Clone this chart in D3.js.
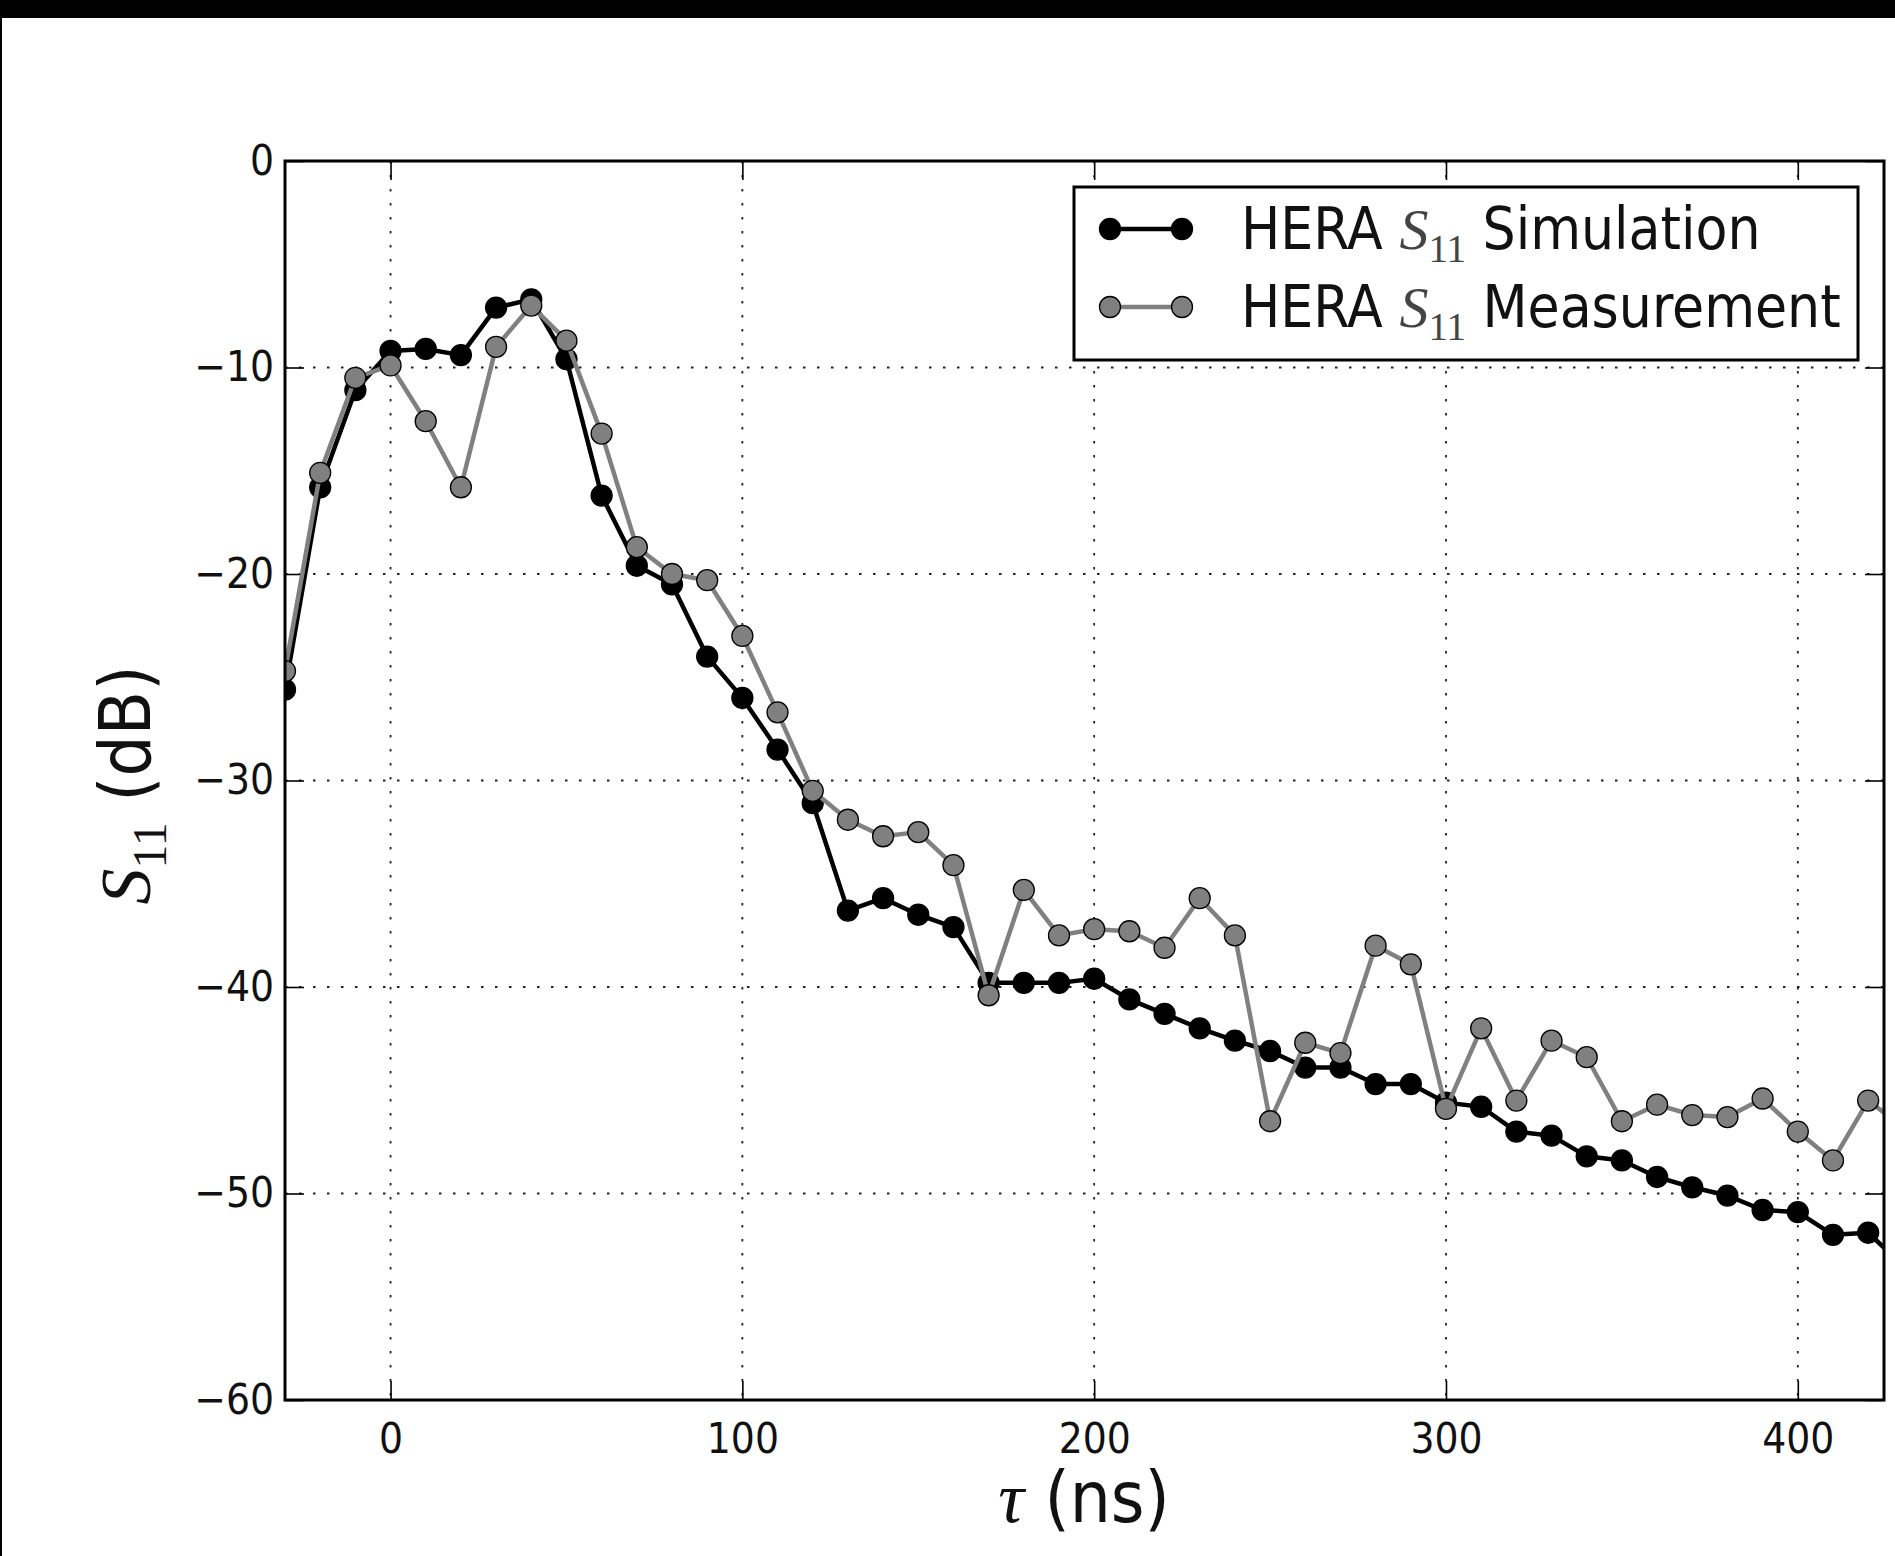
<!DOCTYPE html>
<html>
<head>
<meta charset="utf-8">
<script src="https://cdn.jsdelivr.net/npm/d3@7"></script>
<style>
  body { margin: 0; background: #fff; }
  svg { display: block; font-family: "DejaVu Sans", sans-serif; }
</style>
</head>
<body>
<svg id="chart" width="1895" height="1556"></svg>
<script>
// delay axis (ns), one point every 10 ns
var tau = [-30, -20, -10, 0, 10, 20, 30, 40, 50, 60, 70, 80, 90, 100, 110, 120, 130, 140, 150, 160,
  170, 180, 190, 200, 210, 220, 230, 240, 250, 260, 270, 280, 290, 300, 310, 320, 330, 340, 350,
  360, 370, 380, 390, 400, 410, 420, 430];

// HERA S11 simulation (dB)
var simulation = [-25.6, -15.8, -11.1, -9.2, -9.1, -9.4, -7.1, -6.7, -9.6, -16.2, -19.6, -20.5, -24.0,
  -26.0, -28.5, -31.1, -36.3, -35.7, -36.5, -37.1, -39.8, -39.8, -39.8, -39.6, -40.6, -41.3, -42.0,
  -42.6, -43.1, -43.9, -43.9, -44.7, -44.7, -45.6, -45.8, -47.0, -47.2, -48.2, -48.4, -49.2, -49.7,
  -50.1, -50.8, -50.9, -52.0, -51.9, -53.5];

// HERA S11 measurement (dB)
var measurement = [-24.7, -15.1, -10.5, -9.9, -12.6, -15.8, -9.0, -7.0, -8.7, -13.2, -18.7, -20.0, -20.3,
  -23.0, -26.7, -30.5, -31.9, -32.7, -32.5, -34.1, -40.4, -35.3, -37.5, -37.2, -37.3, -38.1, -35.7,
  -37.5, -46.5, -42.7, -43.2, -38.0, -38.9, -45.9, -42.0, -45.5, -42.6, -43.4, -46.5, -45.7, -46.2,
  -46.3, -45.4, -47.0, -48.4, -45.5, -46.8];

var xTicks = [0, 100, 200, 300, 400];
var yTicks = [0, -10, -20, -30, -40, -50, -60];
var seriesNames = ["Simulation", "Measurement"];

var svg = d3.select("#chart");

// black frame remnants of the original screenshot
svg.append("rect").attr("x", 0).attr("y", 0).attr("width", 1895).attr("height", 18).attr("fill", "#000");
svg.append("rect").attr("x", 0).attr("y", 0).attr("width", 2).attr("height", 1556).attr("fill", "#000");

var margin = { top: 161, right: 11, bottom: 156, left: 285 };
var width = 1895 - margin.left - margin.right;
var height = 1556 - margin.top - margin.bottom;

var g = svg.append("g")
  .attr("transform", "translate(" + margin.left + "," + margin.top + ")");

var x = d3.scaleLinear().domain([-30, 424.5]).range([0, width]);
var y = d3.scaleLinear().domain([-60, 0]).range([height, 0]);

g.append("clipPath").attr("id", "plotClip")
  .append("rect").attr("width", width).attr("height", height);

// dotted grid
g.append("g").selectAll("line").data(xTicks).enter().append("line")
  .attr("x1", d => x(d)).attr("x2", d => x(d))
  .attr("y1", 0).attr("y2", height)
  .attr("stroke", "#222").attr("stroke-width", 1.8).attr("stroke-dasharray", "2.5,11.5");
g.append("g").selectAll("line").data(yTicks).enter().append("line")
  .attr("y1", d => y(d)).attr("y2", d => y(d))
  .attr("x1", 0).attr("x2", width)
  .attr("stroke", "#222").attr("stroke-width", 1.8).attr("stroke-dasharray", "2.5,11.5");

// axes: ticks point inward, labels on bottom / left only
var tickLen = 19;
var xAxis = d3.axisBottom(x).tickValues(xTicks).tickSize(-tickLen).tickPadding(23)
  .tickFormat(d3.format("d"));
var yAxis = d3.axisLeft(y).tickValues(yTicks).tickSize(-tickLen).tickPadding(11)
  .tickFormat(d => d < 0 ? "\u2212" + Math.abs(d) : d);

var gx = g.append("g").attr("transform", "translate(0," + height + ")").call(xAxis);
var gy = g.append("g").call(yAxis);
g.append("g").call(d3.axisTop(x).tickValues(xTicks).tickSize(-tickLen).tickFormat(""));
g.append("g").attr("transform", "translate(" + width + ",0)")
  .call(d3.axisRight(y).tickValues(yTicks).tickSize(-tickLen).tickFormat(""));

svg.selectAll(".domain").remove();
svg.selectAll(".tick line").attr("stroke", "#000").attr("stroke-width", 1.6);
[gx, gy].forEach(function(a) {
  a.selectAll("text").attr("fill", "#111")
    .style("font-size", "42px")
    .style("font-family", "'DejaVu Sans Condensed', 'DejaVu Sans'")
    .style("font-stretch", "condensed");
});

// series
var line = d3.line()
  .x(function(d, i) { return x(tau[i]); })
  .y(function(d) { return y(d); });

var plot = g.append("g").attr("clip-path", "url(#plotClip)");
var styles = [
  { data: simulation, stroke: "#000", fill: "#000" },
  { data: measurement, stroke: "#808080", fill: "#808080" }
];
styles.forEach(function(s) {
  plot.append("path").datum(s.data)
    .attr("d", line)
    .attr("fill", "none")
    .attr("stroke", s.stroke)
    .attr("stroke-width", 4.5)
    .attr("stroke-linejoin", "round");
  plot.append("g").selectAll("circle").data(s.data).enter().append("circle")
    .attr("cx", function(d, i) { return x(tau[i]); })
    .attr("cy", d => y(d))
    .attr("r", 10.5)
    .attr("fill", s.fill)
    .attr("stroke", "#000")
    .attr("stroke-width", 1.3);
});

// frame
g.append("rect").attr("width", width).attr("height", height)
  .attr("fill", "none").attr("stroke", "#000").attr("stroke-width", 3);

// legend
var lg = svg.append("g").attr("transform", "translate(1074,187)");
lg.append("rect").attr("width", 784).attr("height", 173)
  .attr("fill", "#fff").attr("stroke", "#000").attr("stroke-width", 3);
styles.forEach(function(s, i) {
  var yy = 42 + i * 78;
  lg.append("line").attr("x1", 36).attr("x2", 108).attr("y1", yy).attr("y2", yy)
    .attr("stroke", s.stroke).attr("stroke-width", 4.5);
  lg.selectAll(null).data([36, 108]).enter().append("circle")
    .attr("cx", d => d).attr("cy", yy).attr("r", 10.5)
    .attr("fill", s.fill).attr("stroke", "#000").attr("stroke-width", 1.3);
  var t = lg.append("text").attr("x", 167).attr("y", yy + 20)
    .style("font-size", "58px").style("font-family", "'DejaVu Sans Condensed', 'DejaVu Sans'")
    .style("font-stretch", "condensed").attr("fill", "#111");
  t.append("tspan").text("HERA ");
  t.append("tspan").style("font-family", "Liberation Serif").style("font-style", "italic").attr("fill", "#444").text("S");
  t.append("tspan").style("font-family", "Liberation Serif").style("font-size", "39px").attr("fill", "#444").attr("dy", 13).text("11");
  t.append("tspan").attr("dy", -13).text(" " + seriesNames[i]);
});

// axis labels
var xl = svg.append("text").attr("x", 1084).attr("y", 1522).attr("text-anchor", "middle")
  .style("font-size", "72px").style("font-family", "'DejaVu Sans Condensed', 'DejaVu Sans'")
  .style("font-stretch", "condensed").attr("fill", "#111");
xl.append("tspan").style("font-family", "Liberation Serif").style("font-style", "italic").text("\u03c4");
xl.append("tspan").text(" (ns)");

var yl = svg.append("text").attr("transform", "translate(150,785) rotate(-90)")
  .attr("text-anchor", "middle").style("font-size", "72px")
  .style("font-family", "'DejaVu Sans Condensed', 'DejaVu Sans'")
  .style("font-stretch", "condensed").attr("fill", "#111");
yl.append("tspan").style("font-family", "Liberation Serif").style("font-style", "italic").text("S");
yl.append("tspan").style("font-family", "Liberation Serif").style("font-size", "48px").attr("dy", 16).text("11");
yl.append("tspan").attr("dy", -16).text(" (dB)");
</script>
</body>
</html>
